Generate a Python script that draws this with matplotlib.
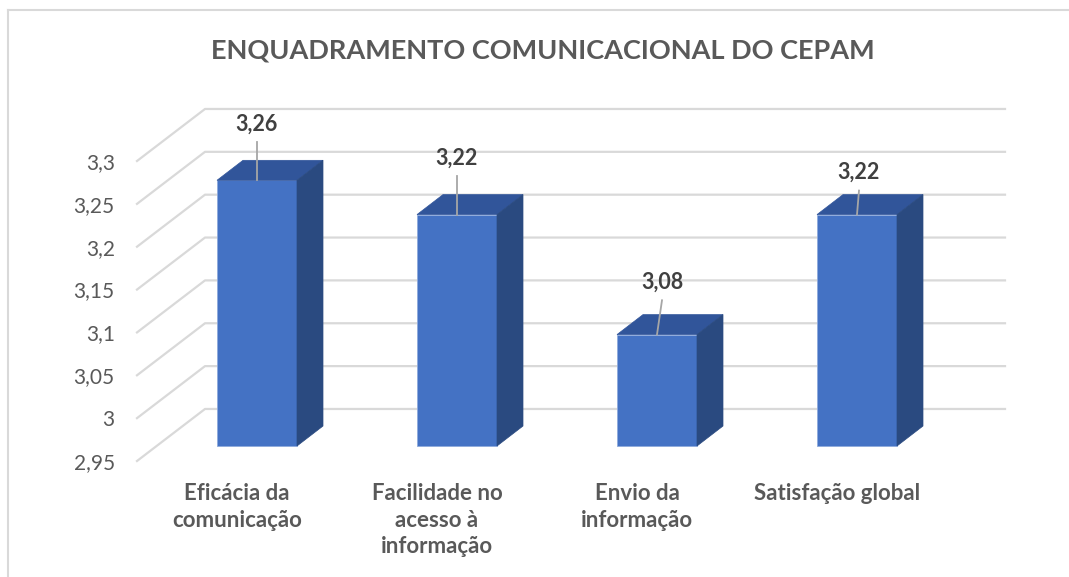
import matplotlib
matplotlib.use("Agg")
import matplotlib.pyplot as plt
from matplotlib.patches import Polygon, Rectangle
from matplotlib.lines import Line2D

# chart data
categories = ["Eficácia da\ncomunicação", "Facilidade no\nacesso à\ninformação",
              "Envio da\ninformação", "Satisfação global"]
values = [3.26, 3.22, 3.08, 3.22]
y_ticks = [2.95, 3.0, 3.05, 3.1, 3.15, 3.2, 3.25, 3.3]
title = "ENQUADRAMENTO COMUNICACIONAL DO CEPAM"

# styling
FRONT = "#4472C4"
TOP = "#31559A"
SIDE = "#2A4A80"
GRID = "#D9D9D9"
TEXT = "#595959"
LABEL = "#404040"
FONT = ["Lato", "DejaVu Sans"]

# fake 3d depth (x in category units, y in value units)
wall_dx, wall_dy = 0.34, 0.0607
bar_shift_x, bar_shift_y = 0.10, 0.0175
bar_dx, bar_dy = 0.13, 0.0233
bar_w = 0.40
# data label offsets above bar top (x, y)
label_offsets = [(0.0, 0.066), (0.0, 0.066), (0.025, 0.061), (0.01, 0.049)]

plt.rcParams["font.family"] = FONT

fig = plt.figure(figsize=(10.69, 5.77), dpi=100)
W, H = 1069, 577
ax = fig.add_axes([137 / W, 116 / H, 800 / W, 300 / H])
ax.set_xlim(-0.5, len(values) - 0.5)
ax.set_ylim(y_ticks[0], y_ticks[-1])
for s in ax.spines.values():
    s.set_visible(False)
ax.patch.set_visible(False)

# back wall gridlines with diagonal side lines
x0 = -0.5
x1 = len(values) - 0.5 + wall_dx
for t in y_ticks:
    ax.add_line(Line2D([x0, x0 + wall_dx, x1], [t, t + wall_dy, t + wall_dy],
                       color=GRID, lw=1.6, clip_on=False, zorder=1))

# bars
base = y_ticks[0] + bar_shift_y
for i, v in enumerate(values):
    cx = i + bar_shift_x
    left, right = cx - bar_w / 2, cx + bar_w / 2
    top = v + bar_shift_y
    ax.add_patch(Rectangle((left, base), bar_w, top - base, facecolor=FRONT,
                           edgecolor="#8FAADC", lw=0.6, clip_on=False, zorder=3))
    ax.add_patch(Polygon([(left, top), (right, top), (right + bar_dx, top + bar_dy),
                          (left + bar_dx, top + bar_dy)], closed=True,
                         facecolor=TOP, edgecolor=TOP, lw=0.5, clip_on=False, zorder=3))
    ax.add_patch(Polygon([(right, base), (right, top), (right + bar_dx, top + bar_dy),
                          (right + bar_dx, base + bar_dy)], closed=True,
                         facecolor=SIDE, edgecolor=SIDE, lw=0.5, clip_on=False, zorder=3))
    ox, oy = label_offsets[i]
    lx, ly = cx + ox, top + oy
    ax.text(lx, ly, f"{v:.2f}".replace(".", ","), ha="center", va="center",
            fontsize=15.5, fontweight="bold", color=LABEL, zorder=5)
    ax.add_line(Line2D([lx, cx], [ly - 0.021, top], color="#A6A6A6", lw=1.3,
                       clip_on=False, zorder=4))

# axis labels
ax.set_yticks(y_ticks)
ax.set_yticklabels([f"{t:g}".replace(".", ",") for t in y_ticks],
                   fontsize=15, color=TEXT)
ax.set_xticks(range(len(categories)))
ax.set_xticklabels(categories, fontsize=16, fontweight="bold", color=TEXT,
                   linespacing=1.32)
ax.tick_params(axis="y", length=0, pad=16)
ax.tick_params(axis="x", length=0, pad=16)

fig.text(543 / W, 1 - 50 / H, title, ha="center", va="center",
         fontsize=19.5, fontweight="bold", color=TEXT)

# chart border
fig.add_artist(Line2D([8 / W, 8 / W], [0, 1 - 10 / H], color=GRID, lw=1.5))
fig.add_artist(Line2D([8 / W, 1], [1 - 10 / H, 1 - 10 / H], color=GRID, lw=1.5))

fig.savefig("out.png", dpi=100, facecolor="white")
